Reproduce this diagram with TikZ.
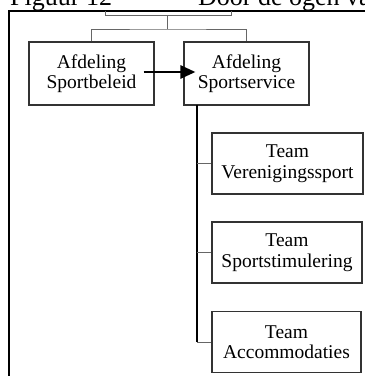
\documentclass[tikz,border=0pt]{standalone}
\usepackage{fontspec}
\setmainfont{Liberation Serif}
\usetikzlibrary{arrows.meta}
\begin{document}
\begin{tikzpicture}[x=1pt,y=-1pt,
  unit/.style={draw=black!80, line width=1.1pt, fill=white, align=center,
    inner sep=0pt, font=\fontsize{19.5}{20.5}\selectfont},
  dept/.style={unit, minimum width=125pt, minimum height=63pt},
  team/.style={unit, minimum height=61pt},
  link/.style={draw=black!60, line width=0.9pt},
  spine/.style={draw=black, line width=1.6pt},
  frame/.style={draw=black, line width=2.2pt},
  flow/.style={draw=black, line width=2.6pt, -{Triangle[length=15pt,width=13pt]}},
  caption/.style={anchor=base west, inner sep=0pt, font=\fontsize{26}{30}\selectfont}
]
\clip (0,0) rectangle (365,376);
\fill[white] (0,0) rectangle (365,376);

% heading line above the chart
\node[caption] (fig) at (10,5) {Figuur 12};
\node[caption] (title) at (198,5) {Door de ogen van};

% outer frame
\draw[frame] (9,380) -- (9,11) -- (370,11);

% upper unit, mostly hidden above the frame
\draw[link] (105,11) |- (231,15) -- (231,11);
\coordinate (top) at (167,15);
\coordinate (hub) at (167,29);

% departments
\node[dept] (b1) at (91.5,73.5) {Afdeling\\Sportbeleid};
\node[dept] (b2) at (246.5,73.5) {Afdeling\\Sportservice};

% teams
\node[team, minimum width=151pt] (t1) at (287.5,163.5) {Team\\Verenigingssport};
\node[team, minimum width=150pt] (t2) at (287,252.5) {Team\\Sportstimulering};
\node[team, minimum width=149pt] (t3) at (286.5,342) {Team\\Accommodaties};

% connectors
\draw[link] (top) -- (hub);
\draw[link] (b1.north) |- (hub) -| (b2.north);

\coordinate (sp) at (197,105);
\draw[spine] (sp) -- (sp |- t3.west);
\draw[link] (sp |- t1.west) -- (t1.west);
\draw[link] (sp |- t2.west) -- (t2.west);
\draw[link] (sp |- t3.west) -- (t3.west);

\draw[flow] ([xshift=-11pt,yshift=1.5pt]b1.east) -- ([xshift=12pt,yshift=1.5pt]b2.west);
\end{tikzpicture}
\end{document}
